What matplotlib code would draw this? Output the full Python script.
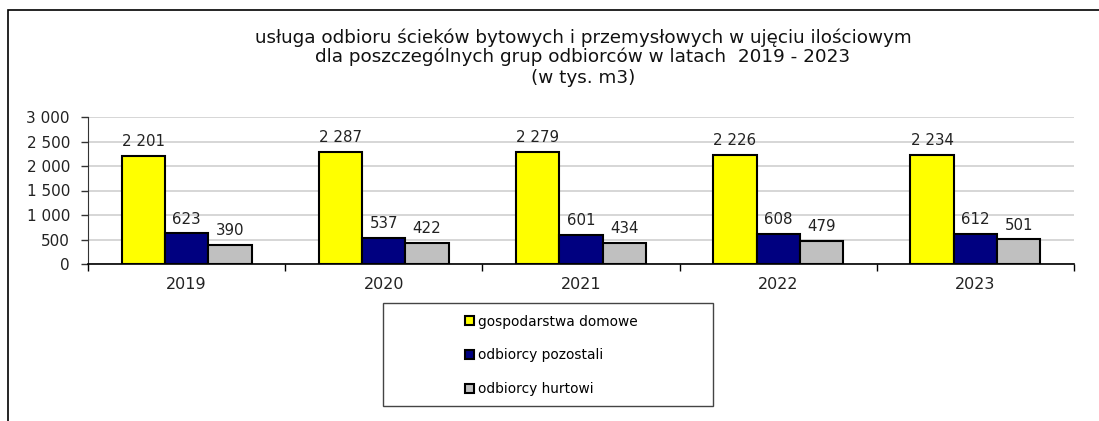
import numpy as np
import matplotlib.pyplot as plt
from matplotlib.patches import Rectangle, Patch
from matplotlib.ticker import FuncFormatter

years = ["2019", "2020", "2021", "2022", "2023"]
gospodarstwa = [2201, 2287, 2279, 2226, 2234]
pozostali = [623, 537, 601, 608, 612]
hurtowi = [390, 422, 434, 479, 501]

series_names = ["gospodarstwa domowe", "odbiorcy pozostali", "odbiorcy hurtowi"]
colors = ["#ffff00", "#000080", "#c0c0c0"]

def spaced(v, pos=None):
    return f"{int(v):,}".replace(",", " ")

fig = plt.figure(figsize=(10.99, 4.21), dpi=100)

# outer frame (clipped on right and bottom like the screenshot)
fig.patches.append(Rectangle((8 / 1099, -0.1), 1.2, 1 - 10 / 421 + 0.1,
                             transform=fig.transFigure, fill=False,
                             edgecolor="black", linewidth=1.2))

ax = fig.add_axes([88 / 1099, 1 - 264 / 421, 986 / 1099, 147 / 421])

x = np.arange(len(years))
w = 0.22
for i, (vals, c) in enumerate(zip([gospodarstwa, pozostali, hurtowi], colors)):
    pos = x + (i - 1) * w
    ax.bar(pos, vals, width=w, color=c, edgecolor="black", linewidth=1.5, zorder=3)
    for p, v in zip(pos, vals):
        ax.annotate(spaced(v), (p, v), xytext=(0, 5), textcoords="offset points",
                    ha="center", va="bottom", fontsize=10.8,
                    family="DejaVu Sans", color="#222222")

ax.set_xlim(-0.5, len(years) - 0.5)
ax.set_ylim(0, 3000)
ax.set_yticks(range(0, 3001, 500))
ax.yaxis.set_major_formatter(FuncFormatter(spaced))
ax.set_xticks(x)
ax.set_xticklabels(years)
ax.set_xticks(np.arange(-0.5, len(years)), minor=True)
ax.tick_params(axis="x", which="major", length=0, pad=9.5)
ax.tick_params(axis="x", which="minor", length=5, width=1, color="black")
ax.tick_params(axis="y", length=5, width=1, color="#333333", pad=8)
for lab in ax.get_yticklabels():
    lab.set_family("DejaVu Sans")
    lab.set_fontsize(11)
    lab.set_color("#222222")
for lab in ax.get_xticklabels():
    lab.set_family("DejaVu Sans")
    lab.set_fontsize(11.5)
    lab.set_color("#222222")

ax.grid(axis="y", color="#d6d6d6", linewidth=1.4, zorder=0)
for s in ["top", "right"]:
    ax.spines[s].set_visible(False)
ax.spines["left"].set_color("#333333")
ax.spines["bottom"].set_color("black")
ax.spines["bottom"].set_linewidth(1.2)

# title
title_lines = ["usługa odbioru ścieków bytowych i przemysłowych w ujęciu ilościowym",
               "dla poszczególnych grup odbiorców w latach  2019 - 2023",
               "(w tys. m3)"]
for t, yy in zip(title_lines, [38, 57, 78]):
    fig.text(583 / 1099, 1 - yy / 421, t, ha="center", va="center",
             fontsize=13.2, family="DejaVu Sans", color="#111111")

# legend box
fig.patches.append(Rectangle((383 / 1099, 1 - 406 / 421), 330 / 1099, 103 / 421,
                             transform=fig.transFigure, fill=False,
                             edgecolor="#444444", linewidth=1))
handles = [Patch(facecolor=c, edgecolor="black", linewidth=1.5) for c in colors]
leg = fig.legend(handles, series_names, loc="center left",
                 bbox_to_anchor=(453 / 1099, 1 - 355.5 / 421), frameon=False,
                 handlelength=0.65, handleheight=0.65, handletextpad=0.25,
                 labelspacing=1.45, prop={"family": "DejaVu Sans", "size": 9.9})

fig.savefig("out.png", dpi=100)
